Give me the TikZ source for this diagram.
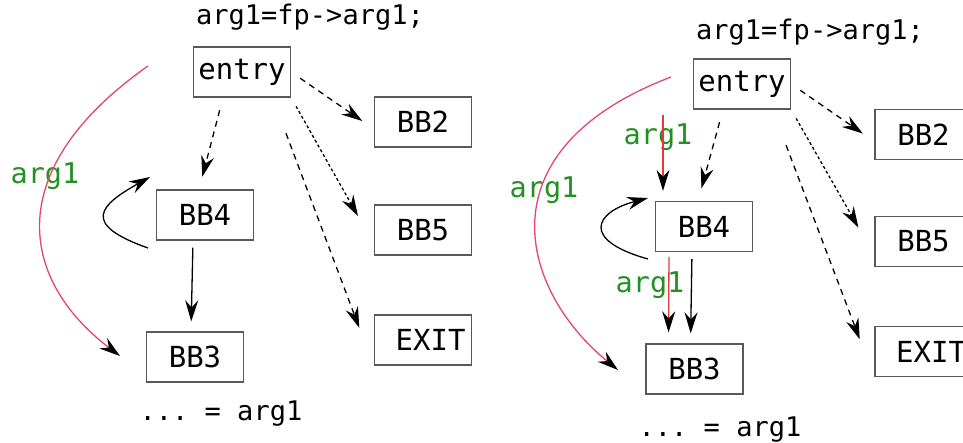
\documentclass[tikz,border=0pt]{standalone}
\usepackage{fontspec}
\setmonofont{DejaVu Sans Mono}
\usetikzlibrary{arrows.meta}
\definecolor{argcol}{RGB}{34,145,34}
\definecolor{pathcol}{RGB}{228,70,110}
\definecolor{copycol}{RGB}{232,55,55}
\tikzset{
  blk/.style={draw=black!65, line width=1.3pt, minimum width=97pt, minimum height=50pt,
    inner sep=2pt, font=\ttfamily\fontsize{29}{34}\selectfont},
  exitblk/.style={blk, text width=85pt, align=right},
  stmt/.style={font=\ttfamily\fontsize{27}{32}\selectfont\frenchspacing},
  lbl/.style={text=argcol, font=\ttfamily\fontsize{28.5}{33}\selectfont},
  succ/.style={-{Stealth[length=21pt,width=13pt,inset=7pt,color=black]}, line width=1.3pt},
  cond/.style={succ, dash pattern=on 6pt off 5pt},
  dense/.style={succ, dash pattern=on 3pt off 2.5pt},
  live/.style={succ, draw=pathcol},
  copy/.style={succ, draw=copycol}
}
\begin{document}
\begin{tikzpicture}[x=1pt,y=-1pt]
  \clip (0,0) rectangle (963,443);
  % CFG before: value only live along the long path
  \begin{scope}
    \draw
      (310,17) node[stmt] (code){arg1=fp->arg1;}
      (242,72) node[blk] (entry){entry}
      (423,122) node[blk] (bb2){BB2}
      (423,230) node[blk] (bb5){BB5}
      (423,340) node[exitblk] (exit){EXIT}
      (205,215) node[blk] (bb4){BB4}
      (195,357) node[blk] (bb3){BB3}
      (221,414) node[stmt] (use){... = arg1}
      (45,176) node[lbl] (lin){arg1};
    \coordinate (def) at (148,66);
    \coordinate (ref) at (120,356);
    \coordinate (back) at (148,248);
    \coordinate (head) at (150,177);
    \draw[cond, shorten <=13pt, shorten >=13pt] ([xshift=-19pt]entry.south) -- ([xshift=-6pt]bb4.north);
    \draw[cond, shorten <=11pt, shorten >=14pt] (entry.east) -- ([yshift=-7pt]bb2.west);
    \draw[dense, shorten <=10pt, shorten >=16pt] (entry.south east) -- ([xshift=-8pt]bb5.west);
    \draw[cond, shorten <=38pt, shorten >=13pt] (entry.-40) -- ([xshift=-10pt]exit.west);
    \draw[succ, shorten <=7pt, shorten >=10pt] ([xshift=-12pt]bb4.south) -- ([xshift=-4pt]bb3.north);
    \draw[succ] (back) .. controls (80,224) and (100,205) .. (head);
    \draw[live] (def) .. controls (0,170) and (20,280) .. (ref);
  \end{scope}
  % CFG after: value also carried along the edges through BB4
  \begin{scope}[shift={(500,12)}, name prefix=r-]
    \draw
      (310,20) node[stmt] (code){arg1=fp->arg1;}
      (242,72) node[blk] (entry){entry}
      (423.5,122.5) node[blk] (bb2){BB2}
      (423.5,229.5) node[blk] (bb5){BB5}
      (423.5,339.5) node[exitblk] (exit){EXIT}
      (204,214.5) node[blk] (bb4){BB4}
      (194.5,357) node[blk] (bb3){BB3}
      (220,418) node[stmt] (use){... = arg1}
      (44,178) node[lbl] (lin){arg1}
      (158,125) node[lbl] (lin4){arg1}
      (150,273) node[lbl] (lin3){arg1};
    \coordinate (def) at (171,65);
    \coordinate (ref) at (118,358);
    \coordinate (back) at (148,247);
    \coordinate (head) at (148,186);
    \coordinate (in4) at (163,103);
    \draw[cond, shorten <=13pt, shorten >=13pt] ([xshift=-19pt]entry.south) -- ([xshift=-6pt]bb4.north);
    \draw[cond, shorten <=11pt, shorten >=14pt] (entry.east) -- ([yshift=-7pt]bb2.west);
    \draw[dense, shorten <=10pt, shorten >=16pt] (entry.south east) -- ([xshift=-8pt]bb5.west);
    \draw[cond, shorten <=38pt, shorten >=13pt] (entry.-40) -- ([xshift=-10pt]exit.west);
    \draw[succ, shorten <=7pt, shorten >=10pt] ([xshift=-12pt]bb4.south) -- ([xshift=-4pt]bb3.north);
    \draw[succ] (back) .. controls (80,228) and (95,200) .. (head);
    \draw[live] (def) .. controls (-20,138) and (20,278) .. (ref);
    \draw[copy, shorten >=10pt] (in4) -- (in4 |- bb4.north);
    \draw[copy, shorten <=5pt, shorten >=11pt] ([xshift=-35pt]bb4.south) -- ([xshift=-26pt]bb3.north);
  \end{scope}
\end{tikzpicture}
\end{document}
